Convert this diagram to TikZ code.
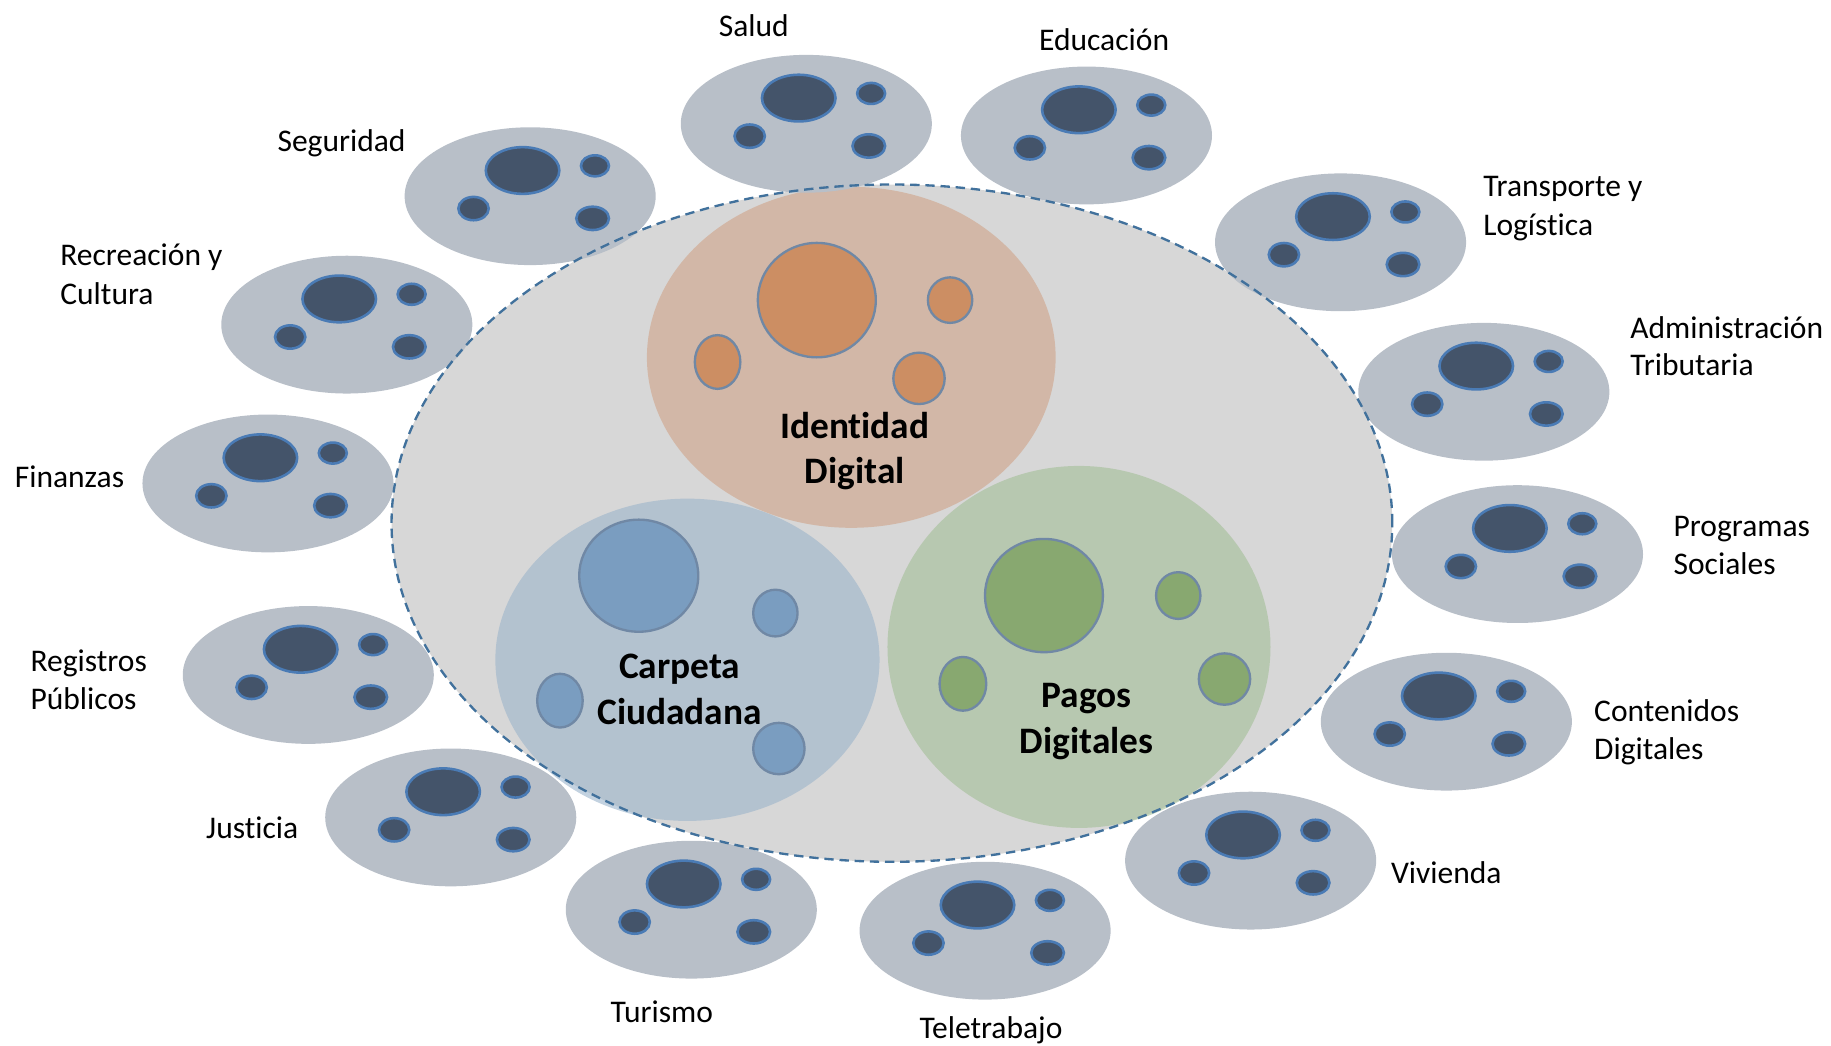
\documentclass[tikz,border=0pt]{standalone}
\usepackage{fontspec}
\setmainfont[Ligatures={NoCommon}]{Carlito}
\usetikzlibrary{shapes.geometric}
\definecolor{bigfill}{HTML}{D7D7D7}
\definecolor{dashcol}{HTML}{41719C}
\definecolor{idfill}{RGB}{208,163,135}
\definecolor{cafill}{RGB}{155,180,203}
\definecolor{pafill}{RGB}{163,190,150}
\definecolor{orin}{HTML}{CC8E63}
\definecolor{blin}{HTML}{7A9DC0}
\definecolor{grin}{HTML}{88A870}
\definecolor{inline}{HTML}{7088A5}
\definecolor{satfill}{HTML}{B8BFC8}
\definecolor{darkin}{HTML}{44546A}
\definecolor{darkline}{HTML}{4A7BB5}
\tikzset{
  lbl/.style={font=\fontsize{27}{33}\selectfont, inner sep=0pt, text=black},
  blbl/.style={font=\fontsize{32}{39}\selectfont\bfseries, inner sep=0pt, text=black},
  ell/.style={ellipse, inner sep=0pt},
  satbody/.style={ell, fill=satfill, minimum width=215pt, minimum height=118pt},
  dk/.style={ell, fill=darkin, draw=darkline, line width=2.2pt},
  area/.style={ell, fill opacity=0.6},
  incirc/.style={ell, draw=inline, line width=2pt},
  satellite/.pic={
    \node[satbody] (-body) at (0,0) {};
    \node[dk, minimum width=63pt, minimum height=40pt] (-big) at (-6.5,-22) {};
    \node[dk, minimum width=24pt, minimum height=18pt] (-tr) at (55.5,-26) {};
    \node[dk, minimum width=26pt, minimum height=20pt] (-bl) at (-48.5,10.6) {};
    \node[dk, minimum width=28pt, minimum height=20pt] (-br) at (53.5,19) {};
  }
}
\begin{document}
\begin{tikzpicture}[x=1pt,y=-1pt]
\useasboundingbox (0,0) rectangle (1568,895);
% big ellipse fill
\node[ell, fill=bigfill, minimum width=857pt, minimum height=580pt] (core) at (763.8,448) {};
% coloured areas
\node[area, fill=idfill, minimum width=350pt, minimum height=292pt] (identidad) at (729,306) {};
\node[area, fill=cafill, minimum width=329pt, minimum height=276pt] (carpeta) at (588.7,565) {};
\node[area, fill=pafill, minimum width=328pt, minimum height=310pt] (pagos) at (924,554) {};
% inner circles
\node[incirc, fill=orin, minimum width=101pt, minimum height=98pt] (id-big) at (699.5,257) {};
\node[incirc, fill=orin, minimum width=38pt, minimum height=39pt] (id-r) at (813.6,257) {};
\node[incirc, fill=orin, minimum width=39pt, minimum height=46pt] (id-l) at (614.5,310) {};
\node[incirc, fill=orin, minimum width=44pt, minimum height=44pt] (id-b) at (787,324) {};
\node[incirc, fill=blin, minimum width=102pt, minimum height=96pt] (ca-big) at (547,493) {};
\node[incirc, fill=blin, minimum width=38pt, minimum height=40pt] (ca-r) at (664,525) {};
\node[incirc, fill=blin, minimum width=39pt, minimum height=46pt] (ca-l) at (479.5,600) {};
\node[incirc, fill=blin, minimum width=44pt, minimum height=44pt] (ca-b) at (667,641) {};
\node[incirc, fill=grin, minimum width=101pt, minimum height=97pt] (pa-big) at (894,510) {};
\node[incirc, fill=grin, minimum width=38pt, minimum height=40pt] (pa-r) at (1009,510) {};
\node[incirc, fill=grin, minimum width=40pt, minimum height=46pt] (pa-l) at (824.6,585.6) {};
\node[incirc, fill=grin, minimum width=44pt, minimum height=44pt] (pa-b) at (1048.6,581.5) {};
% bold labels
\node[blbl, anchor=base] (id-t1) at (732,375.7) {Identidad};
\node[blbl, anchor=base] (id-t2) at (732,414) {Digital};
\node[blbl, anchor=base] (ca-t1) at (582,581) {Carpeta};
\node[blbl, anchor=base] (ca-t2) at (582,620) {Ciudadana};
\node[blbl, anchor=base] (pa-t1) at (930.6,605.6) {Pagos};
\node[blbl, anchor=base] (pa-t2) at (930.6,645.6) {Digitales};
% satellites
\pic (salud) at (690.5,106) {satellite};
\pic (educ) at (930.4,116) {satellite};
\pic (transp) at (1148,207.5) {satellite};
\pic (admin) at (1270.7,335.5) {satellite};
\pic (progr) at (1299.5,474.5) {satellite};
\pic (conten) at (1238.6,618) {satellite};
\pic (vivi) at (1071,737) {satellite};
\pic (tele) at (843.6,797) {satellite};
\pic (turis) at (592,779) {satellite};
\pic (justi) at (386,700) {satellite};
\pic (regis) at (264,578) {satellite};
\pic (finan) at (229.5,414) {satellite};
\pic (recre) at (297,278) {satellite};
\pic (segur) at (454,168) {satellite};
% dashed outline
\node[ell, draw=dashcol, line width=2pt, dash pattern=on 8pt off 5pt, minimum width=857pt, minimum height=580pt] (coreline) at (763.8,448) {};
% satellite labels
\node[lbl, anchor=base] (l-salud) at (645.5,31.5) {Salud};
\node[lbl, anchor=base] (l-educ) at (945.5,43) {Educación};
\node[lbl, anchor=base] (l-segur) at (292.5,130) {Seguridad};
\node[lbl, anchor=base west] (l-recre1) at (51.5,227) {Recreación y};
\node[lbl, anchor=base west] (l-recre2) at (51.5,260.6) {Cultura};
\node[lbl, anchor=base west] (l-finan) at (12.5,417.7) {Finanzas};
\node[lbl, anchor=base west] (l-regis1) at (26,575) {Registros};
\node[lbl, anchor=base west] (l-regis2) at (26,608) {Públicos};
\node[lbl, anchor=base] (l-justi) at (216,718.4) {Justicia};
\node[lbl, anchor=base] (l-turis) at (566.8,875.6) {Turismo};
\node[lbl, anchor=base] (l-tele) at (848.6,889.3) {Teletrabajo};
\node[lbl, anchor=base west] (l-vivi) at (1191,756.4) {Vivienda};
\node[lbl, anchor=base west] (l-conten1) at (1365,617.6) {Contenidos};
\node[lbl, anchor=base west] (l-conten2) at (1365,650) {Digitales};
\node[lbl, anchor=base west] (l-progr1) at (1433,459) {Programas};
\node[lbl, anchor=base west] (l-progr2) at (1433,492) {Sociales};
\node[lbl, anchor=base west] (l-transp1) at (1270,168.6) {Transporte y};
\node[lbl, anchor=base west] (l-transp2) at (1270,201.4) {Logística};
\node[lbl, anchor=base west] (l-admin1) at (1396,290) {Administración};
\node[lbl, anchor=base west] (l-admin2) at (1396,321.4) {Tributaria};
\end{tikzpicture}
\end{document}
